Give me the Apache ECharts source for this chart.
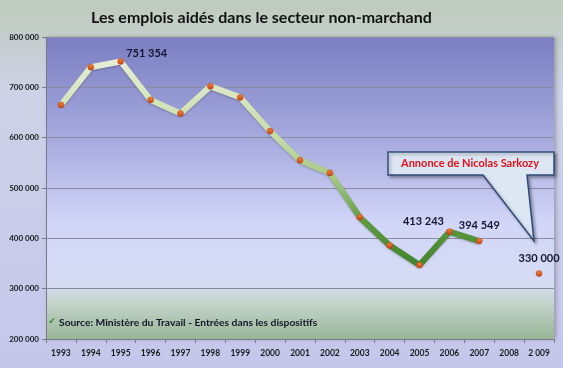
<!DOCTYPE html>
<html>
<head>
<meta charset="utf-8">
<script src="https://cdn.jsdelivr.net/npm/echarts@6/dist/echarts.min.js"></script>
<style>
html,body{margin:0;padding:0;}
#c{width:563px;height:368px;}
</style>
</head>
<body>
<div id="c"></div>
<script>
var years = ['1993','1994','1995','1996','1997','1998','1999','2000','2001','2002','2003','2004','2005','2006','2007','2008','2 009'];
var emplois = [665000, 740000, 751354, 675000, 648000, 702000, 680000, 613000, 555000, 530000, 442000, 386000, 347000, 413243, 394549, null, 330000];
var labeledYears = ['1995','2006','2007','2 009'];
var yTicks = [200000, 300000, 400000, 500000, 600000, 700000, 800000];
var titleText = 'Les emplois aidés dans le secteur non-marchand';
var sourceText = 'Source: Ministère du Travail - Entrées dans les dispositifs';
var calloutText = 'Annonce de Nicolas Sarkozy';

function fmt(v){ return String(Math.round(v)).replace(/\B(?=(\d{3})+(?!\d))/g, ' '); }

var FONT = 'Lato, "Open Sans", sans-serif';
var labelOffsets = {'1995':[26,1], '2006':[-26,-1], '2007':[0,-7], '2 009':[0,-6]};

var chart = echarts.init(document.getElementById('c'), null, {renderer:'canvas'});
var G = echarts.graphic.LinearGradient;
chart.setOption({
  backgroundColor: new G(0,0,0,1,[
    {offset:0,color:'#bfcbbc'},
    {offset:0.25,color:'#cdd2e6'},
    {offset:1,color:'#c6c6ec'}
  ]),
  animation:false,
  title:{
    text: titleText,
    left: 86, top: 5,
    textStyle:{fontFamily:FONT, fontSize:16, fontWeight:'bold', color:'#111'}
  },
  grid:{
    left:46, right:9, top:37, bottom:29, show:true, borderWidth:0,
    backgroundColor: new G(0,0,0,1,[
      {offset:0,color:'#7a7ec2'},
      {offset:0.35,color:'#a8acdf'},
      {offset:0.62,color:'#d2d6f8'},
      {offset:0.82,color:'#d6dcf4'},
      {offset:0.88,color:'#c4d4cc'},
      {offset:1,color:'#98b696'}
    ]),
    shadowColor:'rgba(0,0,0,0.25)', shadowBlur:4, shadowOffsetX:2
  },
  xAxis:{
    type:'category', data:years, boundaryGap:true,
    axisLine:{show:true, lineStyle:{color:'#7a7a8a', width:1}},
    axisTick:{show:true, interval:0, lineStyle:{color:'#7a7a8a'}, length:4},
    axisLabel:{interval:0, fontFamily:FONT, fontSize:8.5, fontWeight:'bold', color:'#1a1a1a', margin:10}
  },
  yAxis:{
    type:'value', min:yTicks[0], max:yTicks[yTicks.length-1], interval:100000,
    axisLine:{show:true, lineStyle:{color:'#7a7a8a', width:1}},
    axisTick:{show:true, lineStyle:{color:'#7a7a8a'}, length:4},
    axisLabel:{fontFamily:FONT, fontSize:8, fontWeight:'bold', color:'#1a1a1a', margin:7, formatter:function(v){return fmt(v);}},
    splitLine:{show:true, lineStyle:{color:'#8b8ba0', width:1}}
  },
  series:[{
    type:'line',
    data:emplois,
    connectNulls:false,
    symbol:'circle', symbolSize:6,
    itemStyle:{color:new G(0,0,0,1,[{offset:0,color:'#f08a3a'},{offset:1,color:'#c8401a'}]), borderColor:'#b03a18', borderWidth:0.5},
    lineStyle:{
      width:6,
      color:new G(0,0,0,1,[
        {offset:0,color:'#e6eed6'},
        {offset:0.35,color:'#c8dcaa'},
        {offset:0.55,color:'#a6c884'},
        {offset:0.75,color:'#5e9a40'},
        {offset:1,color:'#3c7e2a'}
      ]),
      shadowColor:'rgba(0,0,0,0.25)', shadowBlur:2, shadowOffsetY:1
    },
    label:{
      show:true, position:'top', distance:0,
      fontFamily:FONT, fontSize:11, fontWeight:'bold', color:'#151530',
      formatter:function(p){ return labeledYears.indexOf(p.name) >= 0 && p.value != null ? fmt(p.value) : ''; }
    },
    labelLayout:function(p){
      var o = labelOffsets[years[p.dataIndex]];
      if(!o) return {};
      return {dx:o[0], dy:o[1]};
    }
  }],
  graphic:[
    {
      type:'polygon', z:10,
      shape:{points:[[388,152],[554,152],[554,175],[527,175],[534,241],[483,175],[388,175]]},
      style:{fill:'#dde6f3', stroke:'#2f4d7a', lineWidth:1.5, shadowColor:'rgba(0,0,0,0.3)', shadowBlur:3, shadowOffsetX:2, shadowOffsetY:2}
    },
    {
      type:'text', z:11, x:470, y:163,
      style:{text:calloutText, fill:'#e0101a', font:'bold 11px Lato, "Open Sans", sans-serif', align:'center', verticalAlign:'middle'}
    },
    {
      type:'text', z:11, x:52, y:322,
      style:{text:'✔', fill:'#2e8b2e', font:'bold 9px "DejaVu Sans", sans-serif', align:'center', verticalAlign:'middle'}
    },
    {
      type:'text', z:11, x:59, y:323,
      style:{text:sourceText, fill:'#14142a', font:'bold 10.3px Lato, "Open Sans", sans-serif', align:'left', verticalAlign:'middle'}
    }
  ]
});
</script>
</body>
</html>
